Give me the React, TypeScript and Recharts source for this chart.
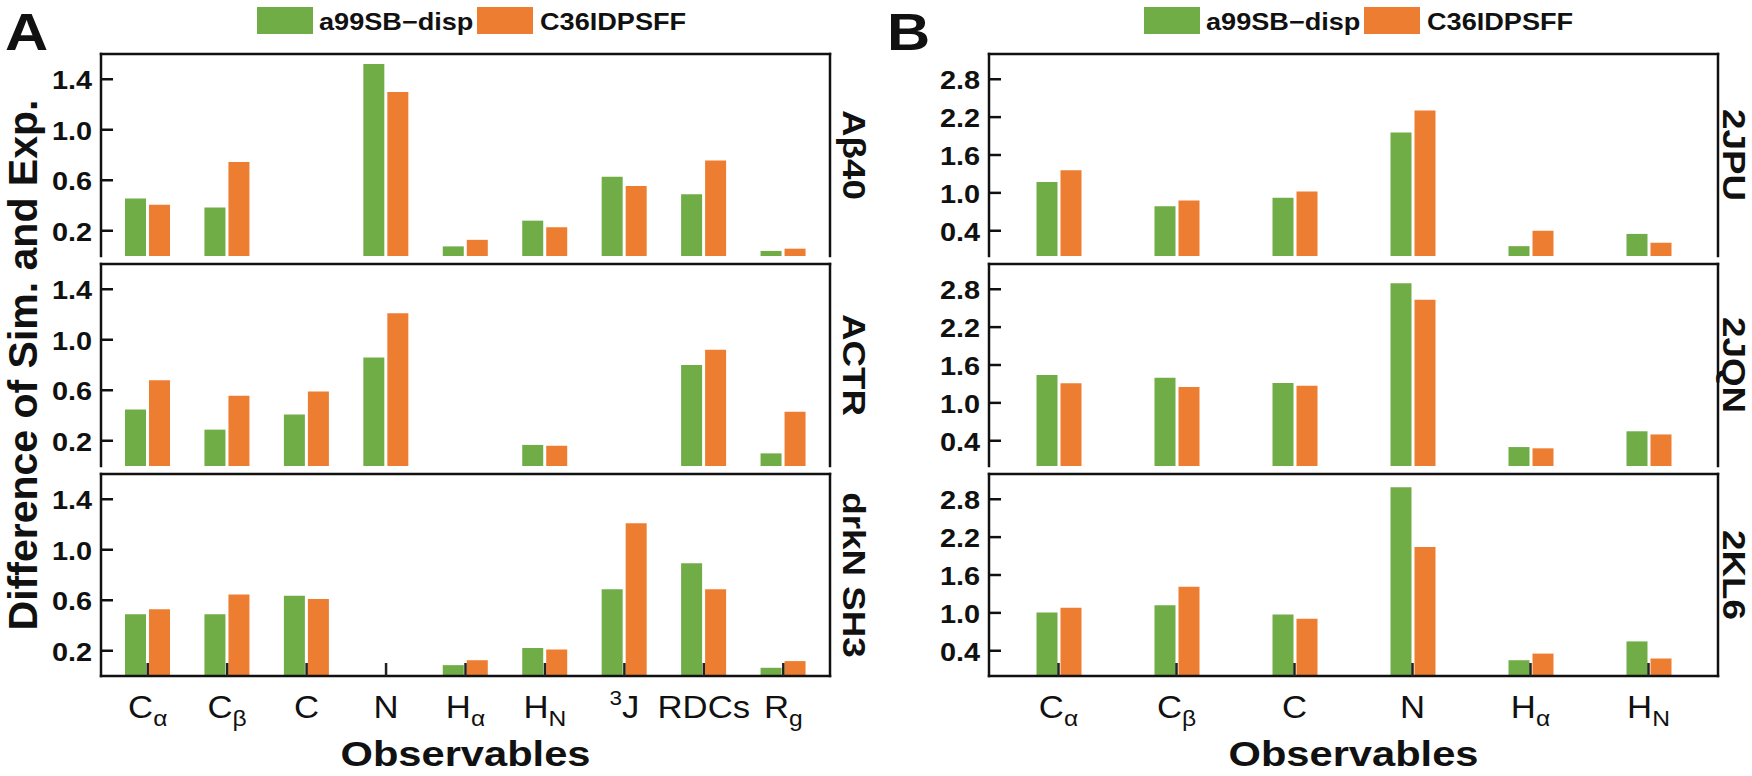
import { BarChart, Bar, XAxis, YAxis, ReferenceLine } from "recharts";

const FONT = '"Liberation Sans", Arial, Helvetica, sans-serif';
const INK = "#111";
const COLORS = ["#70ad47", "#ed7d31"];
const SERIES = ["a99SB\u2212disp", "C36IDPSFF"];

// categories (B uses the first six) and the pieces of each tick label
const catsA = ["Ca", "Cb", "C", "N", "Ha", "HN", "3J", "RDCs", "Rg"];
const catsB = catsA.slice(0, 6);
const tickBase = ["C", "C", "C", "N", "H", "H", "J", "RDCs", "R"];
const tickSub = ["\u03b1", "\u03b2", "", "", "\u03b1", "N", "", "", "g"];
const tickSup = ["", "", "", "", "", "", "3", "", ""];

const ticksA = [0.2, 0.6, 1.0, 1.4];
const ticksB = [0.4, 1.0, 1.6, 2.2, 2.8];

// panel A
const abA99 = [0.455, 0.384, 0, 1.52, 0.076, 0.28, 0.627, 0.49, 0.04];
const abC36 = [0.405, 0.745, 0, 1.3, 0.128, 0.227, 0.555, 0.756, 0.058];
const actrA99 = [0.447, 0.288, 0.408, 0.86, 0, 0.167, 0, 0.8, 0.1];
const actrC36 = [0.68, 0.557, 0.591, 1.21, 0, 0.16, 0, 0.92, 0.43];
const drkA99 = [0.489, 0.489, 0.635, 0, 0.086, 0.222, 0.688, 0.894, 0.065];
const drkC36 = [0.528, 0.646, 0.609, 0, 0.125, 0.21, 1.21, 0.688, 0.118];

// panel B
const jpuA99 = [1.174, 0.788, 0.923, 1.956, 0.156, 0.35];
const jpuC36 = [1.36, 0.88, 1.02, 2.306, 0.4, 0.21];
const jqnA99 = [1.44, 1.4, 1.315, 2.895, 0.3, 0.55];
const jqnC36 = [1.31, 1.25, 1.27, 2.634, 0.28, 0.5];
const klA99 = [1.007, 1.12, 0.976, 2.99, 0.25, 0.548];
const klC36 = [1.08, 1.414, 0.908, 2.045, 0.355, 0.277];

const PLOT_W = 729;
const PLOT_H = 202;
const Y_W = 60;
const R_W = 44;
const M = 4;
const X_H = 92;
const AXIS_LINE = { stroke: INK, strokeWidth: 2.5, strokeLinecap: "square" as const };

const YTick = (props: any) => {
  const { x, y, payload } = props;
  return (
    <g>
      <line x1={x} x2={x + 12} y1={y} y2={y} stroke={INK} strokeWidth={2.5} />
      <text
        transform={`translate(${x - 9},${y + 10}) scale(1.11,1)`}
        textAnchor="end"
        fontFamily={FONT}
        fontSize={26}
        fontWeight={700}
        fill={INK}
      >
        {Number(payload.value).toFixed(1)}
      </text>
    </g>
  );
};

const XTick = (props: any) => {
  const { x, y, payload } = props;
  const i = catsA.indexOf(payload.value);
  return (
    <g>
      <line x1={x} x2={x} y1={y} y2={y - 13} stroke="#222" strokeWidth={2.5} />
      <text
        transform={`translate(${x},${y + 42}) scale(1.12,1)`}
        textAnchor="middle"
        fontFamily={FONT}
        fontSize={31}
        fill={INK}
      >
        {tickSup[i] ? (
          <tspan fontSize={20} dy={-13}>
            {tickSup[i]}
          </tspan>
        ) : null}
        <tspan dy={tickSup[i] ? 13 : 0}>{tickBase[i]}</tspan>
        {tickSub[i] ? (
          <tspan fontSize={22} dy={8}>
            {tickSub[i]}
          </tspan>
        ) : null}
      </text>
    </g>
  );
};

const ObsLabel = (props: any) => {
  const { x, y, width, height } = props.viewBox;
  return (
    <text
      transform={`translate(${x + width / 2},${y + height - 2}) scale(1.19,1)`}
      textAnchor="middle"
      fontFamily={FONT}
      fontSize={35}
      fontWeight={700}
      fill={INK}
    >
      Observables
    </text>
  );
};

const SideName = ({ vb, text, gap }: { vb: any; text: string; gap: number }) => (
  <text
    transform={`translate(${vb.x + gap},${vb.y + vb.height / 2}) rotate(90) scale(1.15,1)`}
    textAnchor="middle"
    dominantBaseline="central"
    fontFamily={FONT}
    fontSize={32}
    fontWeight={700}
    fill={INK}
  >
    {text}
  </text>
);

type PanelProps = {
  cats: string[];
  a99: number[];
  c36: number[];
  name: string;
  yMax: number;
  yTicks: number[];
  pad: number;
  left: number;
  top: number;
  last: boolean;
  gap: number;
};

function Panel(p: PanelProps) {
  const data = p.cats.map((c, i) => ({ cat: c, a99: p.a99[i], c36: p.c36[i] }));
  const h = M + PLOT_H + (p.last ? X_H : 0) + M;
  return (
    <div style={{ position: "absolute", left: p.left - Y_W, top: p.top - M }}>
      <BarChart
        width={Y_W + PLOT_W + R_W}
        height={h}
        data={data}
        margin={{ top: M, right: 0, bottom: M, left: 0 }}
        barSize={21}
        barGap={3}
      >
        <Bar dataKey="a99" name={SERIES[0]} fill={COLORS[0]} isAnimationActive={false} />
        <Bar dataKey="c36" name={SERIES[1]} fill={COLORS[1]} isAnimationActive={false} />
        <ReferenceLine y={p.yMax} stroke={INK} strokeWidth={2.5} strokeLinecap="square" ifOverflow="visible" />
        <XAxis
          dataKey="cat"
          interval={0}
          padding={{ left: p.pad, right: p.pad }}
          height={p.last ? X_H : 0}
          tickSize={0}
          tickMargin={0}
          tickLine={false}
          axisLine={AXIS_LINE}
          tick={p.last ? (tp: any) => <XTick {...tp} /> : false}
          label={p.last ? (lp: any) => <ObsLabel {...lp} /> : undefined}
        />
        <YAxis
          type="number"
          domain={[0, p.yMax]}
          ticks={p.yTicks}
          interval={0}
          width={Y_W}
          tickSize={0}
          tickMargin={0}
          tickLine={false}
          axisLine={AXIS_LINE}
          tick={(tp: any) => <YTick {...tp} />}
        />
        <YAxis
          yAxisId="r"
          orientation="right"
          type="number"
          domain={[0, 1]}
          width={R_W}
          tick={false}
          tickLine={false}
          axisLine={AXIS_LINE}
          label={(lp: any) => <SideName vb={lp.viewBox} text={p.name} gap={p.gap} />}
        />
      </BarChart>
    </div>
  );
}

const Legend = ({ frameLeft }: { frameLeft: number }) => {
  const rectX = [156, 376];
  const textX = [218, 439];
  return (
    <g>
      {SERIES.map((s, i) => (
        <g key={s}>
          <rect x={frameLeft + rectX[i]} y={7} width={56} height={27} fill={COLORS[i]} />
          <text
            transform={`translate(${frameLeft + textX[i]},30) scale(1.13,1)`}
            fontFamily={FONT}
            fontSize={24}
            fontWeight={700}
            fill={INK}
          >
            {s}
          </text>
        </g>
      ))}
    </g>
  );
};

const A_LEFT = 101;
const B_LEFT = 989;
const TOPS = [54, 264, 474];

export default function App() {
  return (
    <div
      style={{
        position: "absolute",
        left: 0,
        top: 0,
        width: 1752,
        height: 776,
        overflow: "hidden",
        background: "#fff",
      }}
    >
      <Panel cats={catsA} a99={abA99} c36={abC36} name={"A\u03b240"} yMax={1.6} yTicks={ticksA} pad={7} left={A_LEFT} top={TOPS[0]} last={false} gap={24} />
      <Panel cats={catsA} a99={actrA99} c36={actrC36} name="ACTR" yMax={1.6} yTicks={ticksA} pad={7} left={A_LEFT} top={TOPS[1]} last={false} gap={24} />
      <Panel cats={catsA} a99={drkA99} c36={drkC36} name="drkN SH3" yMax={1.6} yTicks={ticksA} pad={7} left={A_LEFT} top={TOPS[2]} last={true} gap={24} />
      <Panel cats={catsB} a99={jpuA99} c36={jpuC36} name="2JPU" yMax={3.2} yTicks={ticksB} pad={10.5} left={B_LEFT} top={TOPS[0]} last={false} gap={16} />
      <Panel cats={catsB} a99={jqnA99} c36={jqnC36} name="2JQN" yMax={3.2} yTicks={ticksB} pad={10.5} left={B_LEFT} top={TOPS[1]} last={false} gap={16} />
      <Panel cats={catsB} a99={klA99} c36={klC36} name="2KL6" yMax={3.2} yTicks={ticksB} pad={10.5} left={B_LEFT} top={TOPS[2]} last={true} gap={16} />
      <svg
        width={1752}
        height={776}
        style={{ position: "absolute", left: 0, top: 0, pointerEvents: "none" }}
      >
        <Legend frameLeft={A_LEFT} />
        <Legend frameLeft={B_LEFT - 1} />
        <text transform="translate(5,50) scale(1.15,1)" fontFamily={FONT} fontSize={52} fontWeight={700} fill={INK}>
          A
        </text>
        <text transform="translate(887,50) scale(1.15,1)" fontFamily={FONT} fontSize={52} fontWeight={700} fill={INK}>
          B
        </text>
        <text
          transform="translate(23,365) rotate(-90)"
          textAnchor="middle"
          dominantBaseline="central"
          fontFamily={FONT}
          fontSize={41}
          fontWeight={700}
          fill={INK}
        >
          Difference of Sim. and Exp.
        </text>
      </svg>
    </div>
  );
}
